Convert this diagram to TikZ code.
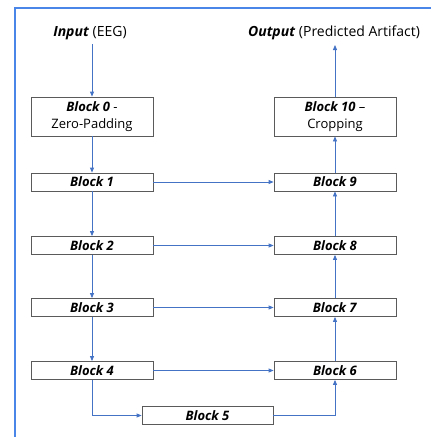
\documentclass[tikz,border=0pt]{standalone}
\usepackage{fontspec}
\setmainfont{Open Sans}
\usetikzlibrary{arrows.meta}
\definecolor{arrowblue}{HTML}{4472C4}
\definecolor{frameblue}{HTML}{4A86E8}
\definecolor{boxgray}{HTML}{5A5A5A}
\tikzset{
  blk/.style={draw=boxgray, line width=0.8pt, fill=white, minimum width=122pt, inner sep=0pt, align=center, font=\fontsize{13}{17}\selectfont},
  thin/.style={blk, minimum height=18pt},
  tall/.style={blk, minimum height=39pt},
  conn/.style={draw=arrowblue, line width=0.8pt, -{Triangle[length=5pt,width=4pt]}},
  lbl/.style={font=\fontsize{14}{16}\selectfont, inner sep=0pt}
}
\begin{document}
\begin{tikzpicture}[x=1pt,y=-1pt]
\useasboundingbox (0,0) rectangle (431,437);
\begin{scope}
\clip (0,0) rectangle (431,437);
\draw[frameblue, line width=2pt] (14.5,8) rectangle (445,450);
\end{scope}
\node[lbl] (in) at (90,33) {\textbf{\textit{Input}} (EEG)};
\node[lbl] (out) at (334,33) {\textbf{\textit{Output}} (Predicted Artifact)};
\node[tall] (b0) at (92,116.5) {\textbf{\textit{Block 0}} -\\Zero-Padding};
\node[tall] (b10) at (335,116.5) {\textbf{\textit{Block 10}} --\\Cropping};
\node[thin] (b1) at (92,182) {\textbf{\textit{Block 1}}};
\node[thin] (b9) at (335,182) {\textbf{\textit{Block 9}}};
\node[thin] (b2) at (92,245.5) {\textbf{\textit{Block 2}}};
\node[thin] (b8) at (335,245.5) {\textbf{\textit{Block 8}}};
\node[thin] (b3) at (92,307.5) {\textbf{\textit{Block 3}}};
\node[thin] (b7) at (335,307.5) {\textbf{\textit{Block 7}}};
\node[thin] (b4) at (92,370.5) {\textbf{\textit{Block 4}}};
\node[thin] (b6) at (335,370.5) {\textbf{\textit{Block 6}}};
\node[thin, minimum width=131pt] (b5) at (207.5,415.5) {\textbf{\textit{Block 5}}};
\coordinate (inend) at (92,44);
\coordinate (outend) at (335,45);
\draw[conn] (inend) -- (b0.north);
\draw[conn] (b10.north) -- (outend);
\draw[conn] (b0) -- (b1);
\draw[conn] (b1) -- (b2);
\draw[conn] (b2) -- (b3);
\draw[conn] (b3) -- (b4);
\draw[conn] (b4.south) |- (b5.west);
\draw[conn] (b5.east) -| (b6.south);
\draw[conn] (b6) -- (b7);
\draw[conn] (b7) -- (b8);
\draw[conn] (b8) -- (b9);
\draw[conn] (b9) -- (b10);
\draw[conn] (b1) -- (b9);
\draw[conn] (b2) -- (b8);
\draw[conn] (b3) -- (b7);
\draw[conn] (b4) -- (b6);
\end{tikzpicture}
\end{document}
